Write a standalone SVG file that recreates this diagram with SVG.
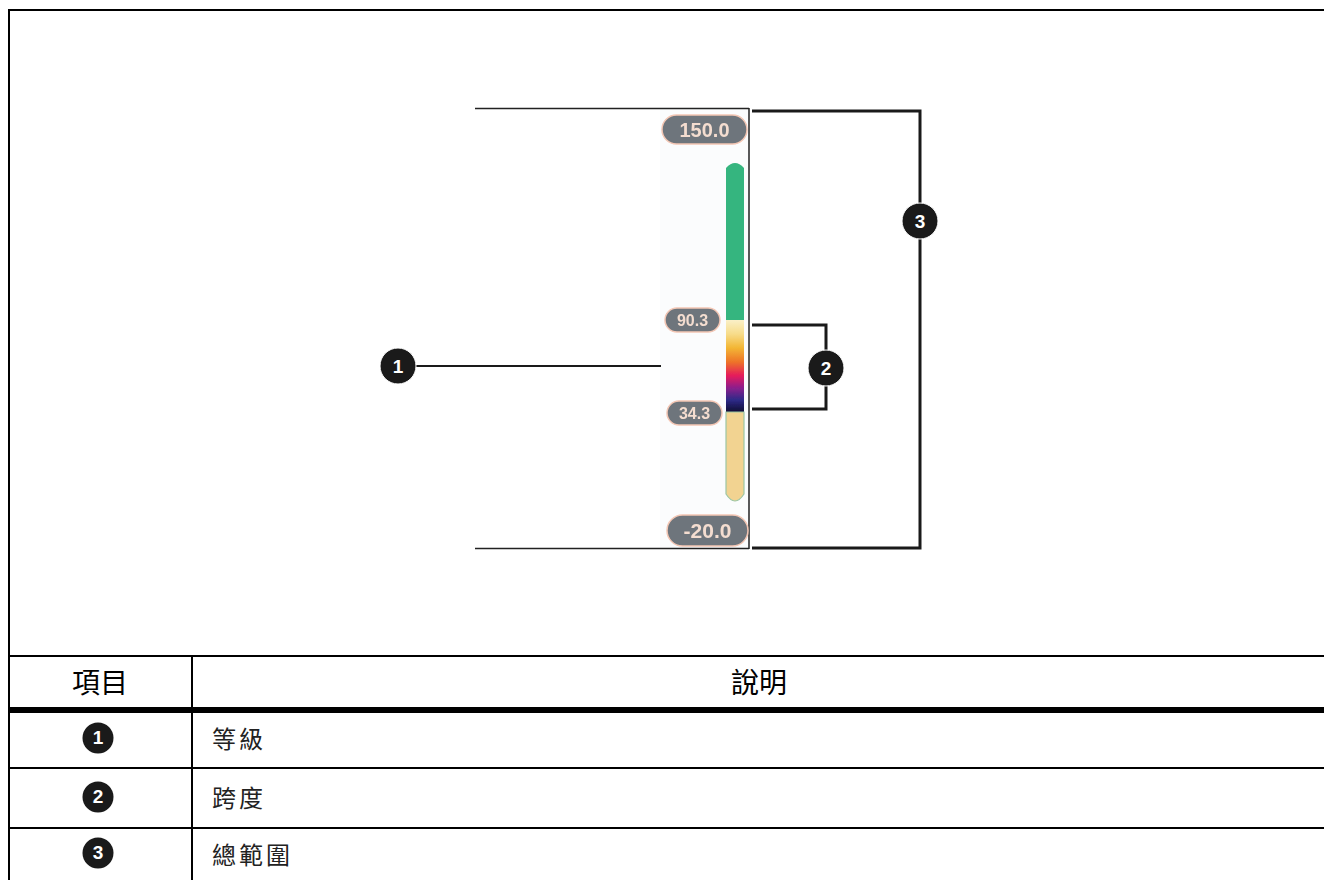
<svg xmlns="http://www.w3.org/2000/svg" width="1324" height="880" viewBox="0 0 1324 880">
<defs>
<linearGradient id="span" x1="0" y1="0" x2="0" y2="1">
<stop offset="0" stop-color="#faf0c8"/>
<stop offset="0.15" stop-color="#f7dc8a"/>
<stop offset="0.3" stop-color="#f3b634"/>
<stop offset="0.45" stop-color="#ee7428"/>
<stop offset="0.6" stop-color="#e51a5c"/>
<stop offset="0.73" stop-color="#8c1f8c"/>
<stop offset="0.86" stop-color="#2e2a88"/>
<stop offset="1" stop-color="#0c0b2c"/>
</linearGradient>
<filter id="blur" x="-10%" y="-10%" width="120%" height="120%"><feGaussianBlur stdDeviation="0.6"/></filter>
</defs>
<style>
.frame{stroke:#000;stroke-width:2;fill:none}
.thin{stroke:#222;stroke-width:1.5;fill:none}
.conn{stroke:#1a1a1a;stroke-width:3;fill:none}
.lead{stroke:#1a1a1a;stroke-width:2;fill:none}
.badge{fill:#1a1a1a;stroke:#fff;stroke-width:1}
.bnum{font-family:"Liberation Sans",Arial,sans-serif;font-weight:bold;font-size:19px;fill:#fff;text-anchor:middle}
.pill{fill:#6e757b;stroke:#f3c6b4;stroke-width:1.5}
.ptxt{font-family:"Liberation Sans",Arial,sans-serif;font-weight:bold;fill:#f4ddd0;text-anchor:middle}
.hdr{font-family:"Noto Sans CJK TC","Noto Sans CJK SC",sans-serif;font-size:28px;fill:#000;text-anchor:middle}
.cell{font-family:"Noto Sans CJK TC","Noto Sans CJK SC",sans-serif;font-size:24px;letter-spacing:3px;fill:#222}
</style>
<rect x="0" y="0" width="1324" height="880" fill="#fff"/>

<g id="frame">
<line class="frame" x1="9" y1="10" x2="1324" y2="10"/>
<line class="frame" x1="9" y1="9" x2="9" y2="880"/>
</g>

<g id="scale-image">
<rect x="660" y="109" width="89" height="439" fill="#fbfcfd"/>
<line class="thin" x1="475" y1="108.5" x2="749" y2="108.5"/>
<line class="thin" x1="475" y1="548.5" x2="749" y2="548.5"/>
<line class="thin" x1="749" y1="108" x2="749" y2="549"/>
<g filter="url(#blur)">
<path d="M726,168 Q735,158 744,168 L744,321 L726,321 Z" fill="#36b57f"/>
<rect x="726" y="320" width="18" height="93" fill="url(#span)"/>
<path d="M726,412 L744,412 L744,494 Q735,508 726,494 Z" fill="#f2d391" stroke="#9cc6a4" stroke-width="1.2"/>
<rect class="pill" x="662" y="115" width="85" height="29" rx="14.5"/>
<text class="ptxt" x="704.5" y="137" font-size="20">150.0</text>
<rect class="pill" x="665" y="308" width="55" height="24" rx="12"/>
<text class="ptxt" x="692.5" y="326" font-size="16">90.3</text>
<rect class="pill" x="667" y="401" width="55" height="24" rx="12"/>
<text class="ptxt" x="694.5" y="419" font-size="16">34.3</text>
<rect class="pill" x="667" y="515" width="81" height="31" rx="15.5"/>
<text class="ptxt" x="707.5" y="538" font-size="21">-20.0</text>
</g>
</g>

<g id="connectors">
<line class="lead" x1="416" y1="366" x2="661" y2="366"/>
<polyline class="conn" points="752,325 826,325 826,409 752,409"/>
<polyline class="conn" points="752,111 920,111 920,548 752,548"/>
</g>

<g id="callout-1">
<circle class="badge" cx="398" cy="366" r="18"/>
<text class="bnum" x="398" y="373">1</text>
</g>
<g id="callout-2">
<circle class="badge" cx="826" cy="368" r="18"/>
<text class="bnum" x="826" y="375">2</text>
</g>
<g id="callout-3">
<circle class="badge" cx="920" cy="221" r="18"/>
<text class="bnum" x="920" y="228">3</text>
</g>

<g id="table">
<line class="frame" x1="9" y1="656" x2="1324" y2="656"/>
<line x1="9" y1="710" x2="1324" y2="710" stroke="#000" stroke-width="6"/>
<line class="frame" x1="9" y1="768" x2="1324" y2="768"/>
<line class="frame" x1="9" y1="828" x2="1324" y2="828"/>
<line class="frame" x1="192" y1="656" x2="192" y2="880"/>
<text class="hdr" x="100" y="693">項目</text>
<text class="hdr" x="759" y="693">說明</text>
<g id="row-1">
<circle cx="98" cy="738" r="15.5" fill="#1a1a1a"/>
<text class="bnum" x="98" y="744" font-size="17">1</text>
<text class="cell" x="212" y="748">等級</text>
</g>
<g id="row-2">
<circle cx="98" cy="797" r="15.5" fill="#1a1a1a"/>
<text class="bnum" x="98" y="803" font-size="17">2</text>
<text class="cell" x="212" y="807">跨度</text>
</g>
<g id="row-3">
<circle cx="98" cy="853" r="15.5" fill="#1a1a1a"/>
<text class="bnum" x="98" y="859" font-size="17">3</text>
<text class="cell" x="212" y="864">總範圍</text>
</g>
</g>
</svg>
